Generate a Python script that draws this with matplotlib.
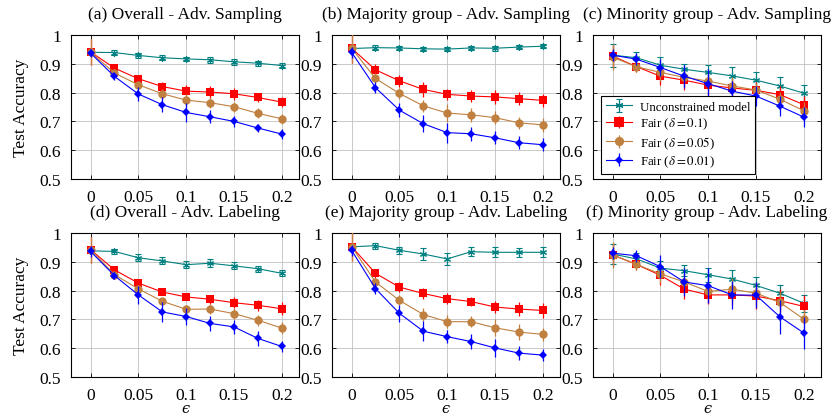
import matplotlib
matplotlib.use("Agg")
import matplotlib.pyplot as plt
import matplotlib.ticker as ticker

plt.rcParams["font.family"] = ["Liberation Serif", "DejaVu Serif"]
plt.rcParams["mathtext.fontset"] = "stix"

eps = [0, 0.025, 0.05, 0.075, 0.1, 0.125, 0.15, 0.175, 0.2]

# (a) overall, adversarial sampling
a_unc = [0.940, 0.939, 0.929, 0.921, 0.917, 0.914, 0.907, 0.902, 0.894]
a_f10 = [0.941, 0.885, 0.848, 0.821, 0.805, 0.802, 0.796, 0.783, 0.767]
a_f05 = [0.940, 0.868, 0.827, 0.796, 0.774, 0.765, 0.751, 0.728, 0.709]
a_f01 = [0.937, 0.856, 0.795, 0.758, 0.731, 0.716, 0.700, 0.677, 0.656]
a_unc_err = [0.008, 0.008, 0.008, 0.008, 0.008, 0.010, 0.010, 0.009, 0.009]
a_f10_err = [0.045, 0.012, 0.012, 0.015, 0.020, 0.020, 0.020, 0.017, 0.017]
a_f05_err = [0.045, 0.012, 0.012, 0.015, 0.020, 0.020, 0.018, 0.017, 0.017]
a_f01_err = [0.015, 0.013, 0.024, 0.026, 0.033, 0.023, 0.019, 0.015, 0.017]

# (b) majority group, adversarial sampling
b_unc = [0.953, 0.956, 0.955, 0.952, 0.951, 0.955, 0.954, 0.958, 0.961]
b_f10 = [0.954, 0.879, 0.841, 0.811, 0.794, 0.788, 0.785, 0.779, 0.773]
b_f05 = [0.954, 0.849, 0.797, 0.754, 0.729, 0.723, 0.713, 0.695, 0.688]
b_f01 = [0.940, 0.817, 0.739, 0.692, 0.661, 0.657, 0.643, 0.626, 0.619]
b_unc_err = [0.008, 0.008, 0.008, 0.008, 0.008, 0.008, 0.008, 0.008, 0.007]
b_f10_err = [0.050, 0.020, 0.020, 0.027, 0.020, 0.020, 0.025, 0.023, 0.022]
b_f05_err = [0.050, 0.020, 0.020, 0.022, 0.030, 0.025, 0.022, 0.022, 0.025]
b_f01_err = [0.020, 0.020, 0.025, 0.030, 0.035, 0.025, 0.023, 0.022, 0.022]

# (c) minority group, adversarial sampling
c_unc = [0.930, 0.921, 0.895, 0.881, 0.870, 0.858, 0.843, 0.823, 0.798]
c_f10 = [0.927, 0.890, 0.857, 0.843, 0.826, 0.816, 0.808, 0.793, 0.758]
c_f05 = [0.923, 0.890, 0.870, 0.853, 0.840, 0.823, 0.809, 0.777, 0.737]
c_f01 = [0.930, 0.916, 0.887, 0.857, 0.831, 0.805, 0.788, 0.753, 0.715]
c_unc_err = [0.040, 0.020, 0.030, 0.020, 0.025, 0.030, 0.030, 0.030, 0.030]
c_f10_err = [0.040, 0.020, 0.030, 0.035, 0.035, 0.030, 0.030, 0.030, 0.030]
c_f05_err = [0.045, 0.020, 0.030, 0.030, 0.030, 0.030, 0.025, 0.025, 0.030]
c_f01_err = [0.020, 0.020, 0.030, 0.040, 0.050, 0.035, 0.035, 0.035, 0.035]

# (d) overall, adversarial labeling
d_unc = [0.938, 0.936, 0.914, 0.903, 0.890, 0.895, 0.886, 0.876, 0.860]
d_f10 = [0.942, 0.872, 0.826, 0.795, 0.778, 0.770, 0.758, 0.749, 0.737]
d_f05 = [0.942, 0.855, 0.806, 0.763, 0.735, 0.736, 0.720, 0.697, 0.670]
d_f01 = [0.936, 0.852, 0.785, 0.726, 0.710, 0.686, 0.674, 0.634, 0.606]
d_unc_err = [0.008, 0.008, 0.012, 0.012, 0.013, 0.013, 0.012, 0.010, 0.010]
d_f10_err = [0.045, 0.010, 0.012, 0.010, 0.010, 0.015, 0.020, 0.020, 0.022]
d_f05_err = [0.045, 0.010, 0.012, 0.012, 0.015, 0.017, 0.020, 0.020, 0.022]
d_f01_err = [0.020, 0.012, 0.030, 0.035, 0.030, 0.027, 0.025, 0.027, 0.020]

# (e) majority group, adversarial labeling
e_unc = [0.952, 0.956, 0.940, 0.927, 0.910, 0.935, 0.933, 0.933, 0.933]
e_f10 = [0.953, 0.860, 0.812, 0.790, 0.772, 0.762, 0.743, 0.736, 0.731]
e_f05 = [0.953, 0.830, 0.766, 0.717, 0.692, 0.692, 0.671, 0.656, 0.648]
e_f01 = [0.940, 0.807, 0.721, 0.659, 0.640, 0.623, 0.601, 0.583, 0.576]
e_unc_err = [0.008, 0.010, 0.012, 0.020, 0.022, 0.015, 0.018, 0.015, 0.018]
e_f10_err = [0.050, 0.015, 0.017, 0.020, 0.020, 0.017, 0.022, 0.025, 0.027]
e_f05_err = [0.050, 0.015, 0.017, 0.022, 0.022, 0.020, 0.030, 0.028, 0.023]
e_f01_err = [0.020, 0.020, 0.030, 0.035, 0.023, 0.025, 0.030, 0.025, 0.020]

# (f) minority group, adversarial labeling
f_unc = [0.927, 0.910, 0.878, 0.869, 0.855, 0.840, 0.818, 0.791, 0.756]
f_f10 = [0.924, 0.891, 0.853, 0.805, 0.785, 0.785, 0.781, 0.765, 0.745]
f_f05 = [0.924, 0.891, 0.858, 0.830, 0.797, 0.805, 0.791, 0.759, 0.701]
f_f01 = [0.930, 0.921, 0.883, 0.830, 0.817, 0.785, 0.784, 0.709, 0.653]
f_unc_err = [0.035, 0.020, 0.025, 0.020, 0.025, 0.030, 0.030, 0.030, 0.030]
f_f10_err = [0.040, 0.020, 0.035, 0.035, 0.030, 0.035, 0.045, 0.040, 0.040]
f_f05_err = [0.045, 0.020, 0.030, 0.035, 0.040, 0.040, 0.040, 0.035, 0.030]
f_f01_err = [0.020, 0.020, 0.040, 0.050, 0.060, 0.050, 0.045, 0.060, 0.055]

titles = [
    "(a) Overall - Adv. Sampling",
    "(b) Majority group - Adv. Sampling",
    "(c) Minority group - Adv. Sampling",
    "(d) Overall - Adv. Labeling",
    "(e) Majority group - Adv. Labeling",
    "(f) Minority group - Adv. Labeling",
]
labels = ["Unconstrained model", r"Fair ($\delta = 0.1$)",
          r"Fair ($\delta = 0.05$)", r"Fair ($\delta = 0.01$)"]

panels = [
    [(a_unc, a_unc_err), (a_f10, a_f10_err), (a_f05, a_f05_err), (a_f01, a_f01_err)],
    [(b_unc, b_unc_err), (b_f10, b_f10_err), (b_f05, b_f05_err), (b_f01, b_f01_err)],
    [(c_unc, c_unc_err), (c_f10, c_f10_err), (c_f05, c_f05_err), (c_f01, c_f01_err)],
    [(d_unc, d_unc_err), (d_f10, d_f10_err), (d_f05, d_f05_err), (d_f01, d_f01_err)],
    [(e_unc, e_unc_err), (e_f10, e_f10_err), (e_f05, e_f05_err), (e_f01, e_f01_err)],
    [(f_unc, f_unc_err), (f_f10, f_f10_err), (f_f05, f_f05_err), (f_f01, f_f01_err)],
]

colors = ["#008080", "#ff0000", "#bf8040", "#0000ff"]
markers = [(6, 2, 0), "s", "o", "D"]
msizes = [5, 6, 6, 4]

W, H = 833, 414
fig = plt.figure(figsize=(W / 100, H / 100), dpi=100)

lefts = [71, 332, 593]
tops = [36, 234]
aw, ah = 228, 144

for i, series in enumerate(panels):
    r, c = divmod(i, 3)
    ax = fig.add_axes([lefts[c] / W, 1 - (tops[r] + ah) / H, aw / W, ah / H])
    for k, (y, err) in enumerate(series):
        ax.errorbar(eps, y, yerr=err, color=colors[k], marker=markers[k],
                    ms=msizes[k], mew=0.8 if k == 0 else 0, lw=0.8,
                    elinewidth=0.9, capsize=2.5, capthick=0.9,
                    ecolor=colors[k], label=labels[k], zorder=3 + k)
    ax.set_xlim(-0.0205, 0.218)
    ax.set_ylim(0.5, 1.0)
    ax.set_xticks([0, 0.05, 0.1, 0.15, 0.2])
    ax.set_yticks([0.5, 0.6, 0.7, 0.8, 0.9, 1.0])
    ax.xaxis.set_major_formatter(ticker.FormatStrFormatter("%g"))
    ax.yaxis.set_major_formatter(ticker.FormatStrFormatter("%g"))
    ax.grid(True, color="#c0c0c0", lw=0.6)
    ax.set_axisbelow(True)
    ax.tick_params(direction="in", length=3, width=0.6, labelsize=12.5,
                   top=True, right=True, pad=7)
    for s in ax.spines.values():
        s.set_linewidth(0.8)
    ax.set_title(titles[i], fontsize=12.5, pad=12)
    if c == 0:
        ax.set_ylabel("Test Accuracy", fontsize=12.5, labelpad=8)
    if r == 1:
        ax.set_xlabel("\u03f5", fontsize=10.5, labelpad=-1,
                      family=["DejaVu Serif"], style="italic")
    if i == 2:
        leg = ax.legend(loc="lower left", bbox_to_anchor=(0.035, 0.035),
                        borderaxespad=0, fontsize=9.3, fancybox=False,
                        edgecolor="black", framealpha=1, handlelength=2.0,
                        handletextpad=0.6, labelspacing=0.22, borderpad=0.4,
                        markerscale=1.1)
        leg.get_frame().set_linewidth(0.8)
        leg.set_zorder(20)

fig.savefig("out.png", dpi=100)
